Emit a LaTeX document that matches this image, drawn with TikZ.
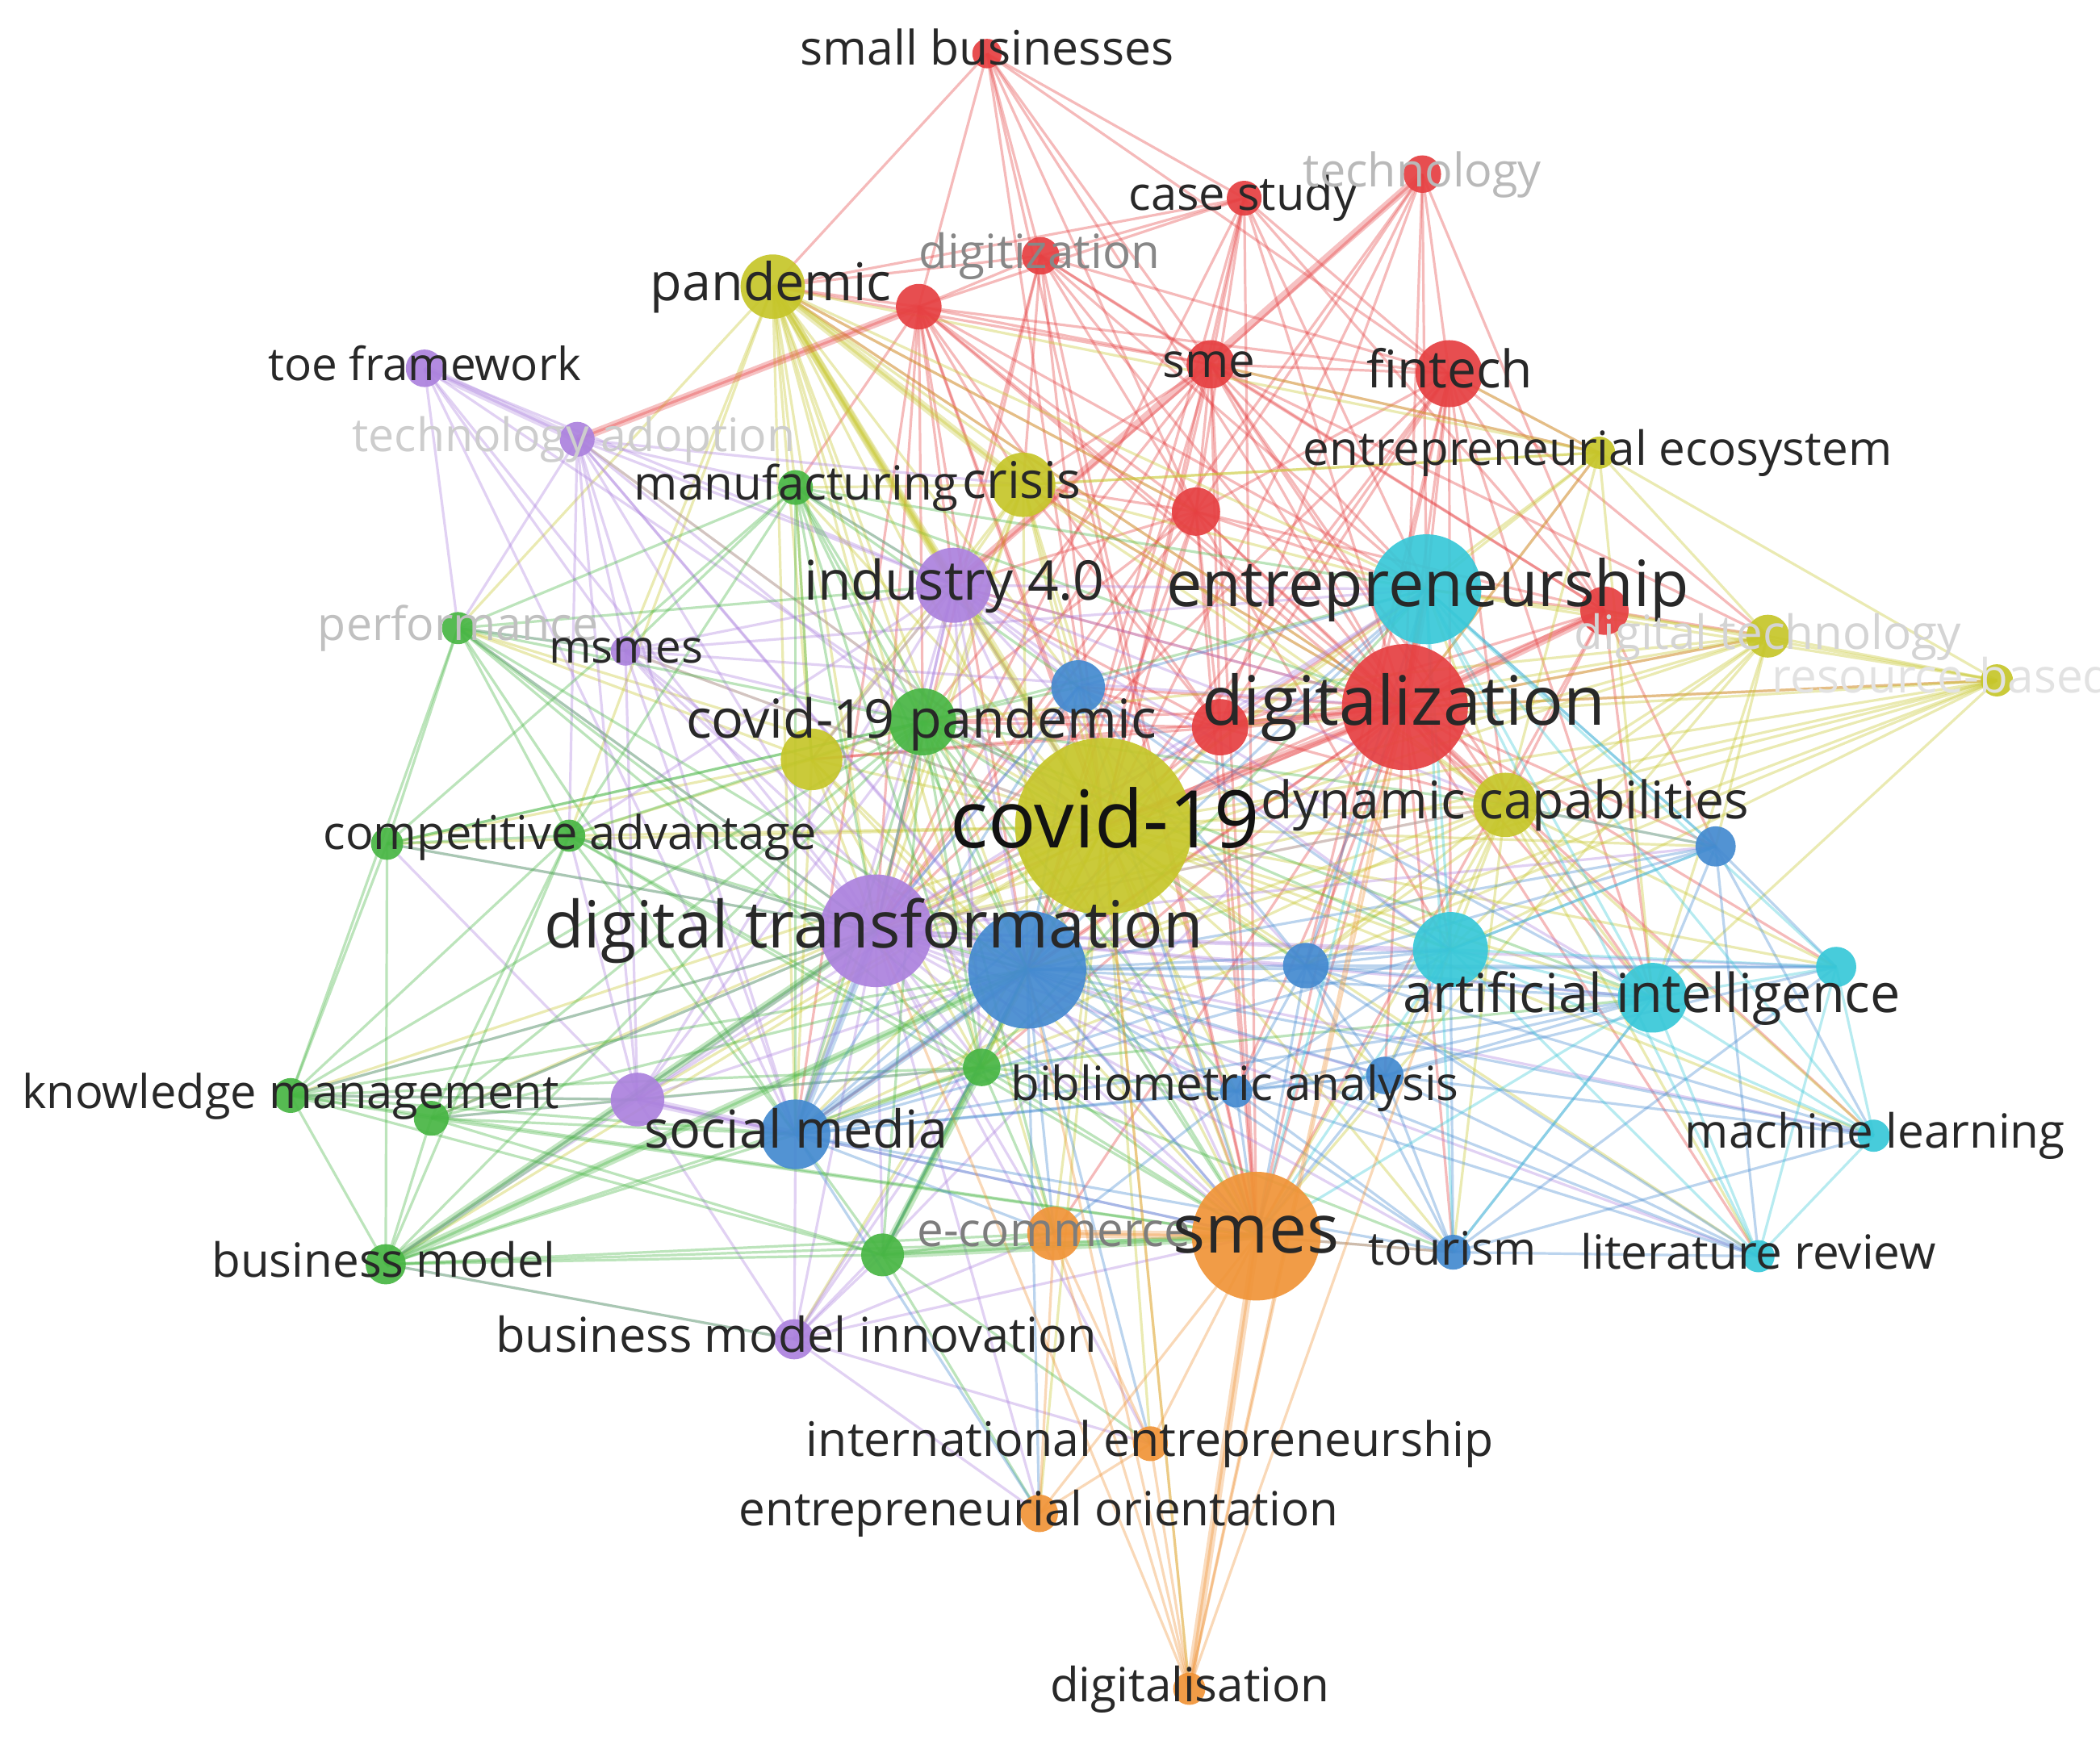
\documentclass[tikz,border=0pt]{standalone}
\usepackage{fontspec}
\setmainfont{Open Sans}
\pgfdeclarelayer{bg}
\pgfsetlayers{bg,main}
\definecolor{cR}{RGB}{230,64,66}
\definecolor{cY}{RGB}{198,198,42}
\definecolor{cP}{RGB}{172,130,222}
\definecolor{cG}{RGB}{72,182,68}
\definecolor{cB}{RGB}{68,138,208}
\definecolor{cC}{RGB}{56,200,216}
\definecolor{cO}{RGB}{240,148,56}
\definecolor{txt}{RGB}{40,40,40}
\definecolor{txtd}{RGB}{18,18,18}
\definecolor{fa}{RGB}{125,125,125}
\definecolor{fb}{RGB}{135,135,135}
\definecolor{fc}{RGB}{185,185,185}
\definecolor{fd}{RGB}{192,192,192}
\definecolor{fe}{RGB}{205,205,205}
\definecolor{ff}{RGB}{212,212,212}
\definecolor{fg}{RGB}{226,226,226}
\tikzset{
  edgebase/.style={line width=0.55pt,draw opacity=0.36},
  eR/.style={edgebase,draw=cR},
  eY/.style={edgebase,draw=cY},
  eP/.style={edgebase,draw=cP},
  eG/.style={edgebase,draw=cG},
  eB/.style={edgebase,draw=cB},
  eC/.style={edgebase,draw=cC},
  eO/.style={edgebase,draw=cO},
  thk/.style={line width=1.7pt,draw opacity=0.32},
  kw/.style={circle,inner sep=0pt,draw=none,fill opacity=0.92},
  lbl/.style={anchor=base,inner sep=0pt}
}
\newcommand\mynode[5]{\node[kw,minimum size=#4*0.02cm,fill=#5] (#1) at (#2,#3) {};}
\newcommand\myedge[3]{\foreach \t in {#3}{\draw[#1] (#2.center) -- (\t.center);}}
\newcommand\mylab[6]{\node[lbl,text=#5,font=\fontsize{#4}{#4}\selectfont] (#1) at (#2,#3) {#6};}
\begin{document}
\begin{tikzpicture}[x=0.01cm,y=-0.01cm]
\useasboundingbox (0,0) rectangle (1568,1299);
% ---------- nodes ----------
% red
\mynode{sb}{737}{40}{11}{cR}
\mynode{cs}{929}{148}{13}{cR}
\mynode{tec}{1062}{130}{14}{cR}
\mynode{dgz}{777}{191}{14}{cR}
\mynode{rA}{686}{229}{17}{cR}
\mynode{sme}{904}{272}{18}{cR}
\mynode{fin}{1082}{279}{25}{cR}
\mynode{rB}{893}{382}{18}{cR}
\mynode{rC}{1198}{456}{18}{cR}
\mynode{dgl}{1049}{528}{47}{cR}
\mynode{rD}{911}{543}{21}{cR}
% yellow
\mynode{pan}{577}{214}{24}{cY}
\mynode{cri}{764}{362}{24}{cY}
\mynode{eco}{1194}{338}{12}{cY}
\mynode{dtc}{1320}{475}{16}{cY}
\mynode{rbv}{1491}{508}{12}{cY}
\mynode{cov}{824}{617}{66}{cY}
\mynode{dyn}{1124}{601}{24}{cY}
\mynode{yA}{606}{567}{23}{cY}
% purple
\mynode{toe}{317}{275}{14}{cP}
\mynode{tad}{431}{328}{13}{cP}
\mynode{msm}{467}{486}{11}{cP}
\mynode{ind}{712}{437}{28}{cP}
\mynode{dtr}{654}{695}{42}{cP}
\mynode{pA}{476}{821}{20}{cP}
\mynode{bmi}{593}{1000}{15}{cP}
% green
\mynode{man}{594}{364}{13}{cG}
\mynode{per}{342}{469}{12}{cG}
\mynode{cpd}{689}{539}{25}{cG}
\mynode{caL}{289}{630}{12}{cG}
\mynode{ca}{425}{624}{12}{cG}
\mynode{km}{217}{818}{13}{cG}
\mynode{gK}{322}{835}{13}{cG}
\mynode{bm}{288}{944}{15}{cG}
\mynode{gA}{733}{797}{14}{cG}
\mynode{gB}{659}{937}{16}{cG}
% blue
\mynode{bA}{805}{513}{20}{cB}
\mynode{bB}{767}{724}{44}{cB}
\mynode{sm}{594}{847}{26}{cB}
\mynode{bC}{975}{721}{17}{cB}
\mynode{ba}{923}{815}{12}{cB}
\mynode{bD}{1034}{803}{14}{cB}
\mynode{tou}{1085}{935}{13}{cB}
\mynode{bE}{1281}{632}{15}{cB}
% cyan
\mynode{ent}{1065}{440}{41}{cC}
\mynode{cyA}{1083}{709}{28}{cC}
\mynode{ai}{1234}{745}{26}{cC}
\mynode{cyB}{1371}{722}{15}{cC}
\mynode{ml}{1399}{848}{12}{cC}
\mynode{lr}{1313}{938}{12}{cC}
% orange
\mynode{smes}{938}{923}{48}{cO}
\mynode{ec}{787}{921}{20}{cO}
\mynode{ie}{859}{1078}{13}{cO}
\mynode{eo}{776}{1130}{14}{cO}
\mynode{dgs}{888}{1261}{12}{cO}
% ---------- edges ----------
\begin{pgfonlayer}{bg}
\fill[white] (0,0) rectangle (1568,1299);
\myedge{eR}{sb}{pan,rA,dgz,cs,sme,cov,dgl,rB,smes,fin}
\myedge{eR}{cs}{dgz,rA,pan,sme,fin,dgl,ent,rB,cov,smes,rC,dtr,bB}
\myedge{eR}{tec}{sme,fin,ent,dgl,rB,cov,dtr,rD,rC}
\myedge{eR}{dgz}{pan,rA,sme,fin,dgl,cov,rB,cri,ind,dtr,smes,ent,rC}
\myedge{eR}{rA}{pan,sme,fin,dgl,cov,tad,cri,ind,cpd,dtr,bB,rB,ent,rD,smes,man,sm,dyn}
\myedge{eR}{sme}{fin,dgl,ent,cov,rB,rC,rD,dtr,ind,cri,smes,eco,dyn,ai,bB,cpd,dtc,pan}
\myedge{eR}{fin}{dgl,ent,cov,rC,rB,eco,dtc,dyn,smes,ai,bB,rD,dtr,cyA,bC}
\myedge{eR}{rB}{dgl,cov,ent,dtr,ind,cri,rD,bB,smes,cpd,pan,rC,dyn,cyA}
\myedge{eR}{rC}{dgl,ent,dtc,cov,dyn,rD,smes,ai,bE}
\myedge{eR}{dgl}{cov,ent,rD,dtr,dyn,smes,ai,cyA,bB,bC,dtc,rbv,eco,ind,cri,cpd,bA,sm,ba,bD,tou,ml,lr,bE,cyB,pan,ec,yA,gA}
\myedge{eR}{rD}{cov,ent,dtr,bB,cri,ind,cpd,smes,dyn,bA,yA}
\myedge{eY}{pan}{cov,cri,ind,cpd,yA,dtr,bB,man,rB,dgl,ent,smes,per,msm,sm,ca,bA,dyn,ec,gA}
\myedge{eY}{cri}{cov,ind,cpd,yA,dtr,bB,dgl,ent,smes,man,bA,dyn,sm,eco}
\myedge{eY}{eco}{ent,dtc,dgl,dyn,cov,fin,sme,ai,cri,rbv,pan}
\myedge{eY}{dtc}{dgl,ent,rbv,dyn,cov,ai,cyA,bE,smes,dtr,bC,rD,cpd}
\myedge{eY}{rbv}{dgl,ent,dyn,cov,dtr,cyA,bB,sm,rD,rC,bC,ai}
\myedge{eY}{cov}{dtr,bB,smes,ent,dyn,cpd,yA,ind,sm,ai,cyA,bC,ba,bD,tou,ec,gA,gB,bA,man,per,ca,caL,km,gK,bm,pA,msm,tad,ie,eo,dgs,bE,lr,ml,cyB,bmi}
\myedge{eY}{dyn}{ent,ai,cyA,bE,smes,dtr,bB,bC,bD,cyB,ml,lr,tou,sm}
\myedge{eY}{yA}{dtr,cpd,ind,bB,sm,ca,caL,per,man,smes,gA}
\myedge{eP}{toe}{tad,msm,ind,dtr,cov,sm,per}
\myedge{eP}{tad}{msm,ind,dtr,cov,man,cri,cpd,bB,sm,pA,per,smes,ca}
\myedge{eP}{msm}{ind,dtr,cov,per,cpd,bB,sm,dgl,smes,ent,pA}
\myedge{eP}{ind}{cov,dtr,bB,cpd,dgl,ent,smes,man,yA,sm,bA,dyn,ai,cyA,bC,gA,pA,ca}
\myedge{eP}{dtr}{bB,smes,sm,pA,bmi,cpd,gA,gB,ent,ai,cyA,bC,ba,bD,ec,km,gK,bm,ca,caL,per,tou,dyn,eo,ie,bA,lr,ml,bE,cyB}
\myedge{eP}{pA}{sm,bB,bmi,km,gK,bm,gA,smes,ent,cpd,caL,ca}
\myedge{eP}{bmi}{sm,bB,gB,bm,smes,eo,ie,ec,gA,dgl}
\myedge{eG}{man}{cpd,ind,per,caL,ca,dtr,bB,yA,gA,smes,ent,sm,bA,dgl,msm}
\myedge{eG}{per}{caL,ca,msm,cpd,dtr,bB,smes,gA,sm,km,ind}
\myedge{eG}{cpd}{bB,smes,dtr,sm,ent,dyn,gA,gB,ai,ca,caL,km,gK,bm,bA,ec,bC,ba,cyA}
\myedge{eG}{caL}{km,ca,dtr,cpd,bm}
\myedge{eG}{ca}{gK,bm,dtr,bB,smes,sm,gA,km}
\myedge{eG}{km}{gK,bm,dtr,bB,sm,pA,smes,gA,gB}
\myedge{eG}{gK}{bm,dtr,bB,sm,gB,smes,gA}
\myedge{eG}{bm}{dtr,bB,sm,gA,gB,smes,ec,bmi}
\myedge{eG}{gA}{bB,smes,sm,gB,ec,ent,ba,tou,ai}
\myedge{eG}{gB}{smes,ec,bB,sm,eo,ie}
\myedge{eB}{bA}{bB,dtr,ent,smes,sm,ai,bC,cyA}
\myedge{eB}{bB}{smes,sm,ent,ai,cyA,bC,ba,bD,tou,ec,eo,ie,lr,ml,bE,cyB,gB}
\myedge{eB}{sm}{smes,ec,bC,ba,bD,tou,ai,ent,cyA,eo}
\myedge{eB}{bC}{smes,ai,cyA,ent,ba,bD,tou,bE,cyB,lr,ml}
\myedge{eB}{ba}{smes,bD,tou,ai,cyA,lr,ec}
\myedge{eB}{bD}{smes,tou,ai,cyA,lr,ml,cyB}
\myedge{eB}{tou}{smes,ai,cyA,lr,ml,cyB}
\myedge{eB}{bE}{ai,cyA,cyB,ml,lr,ent,dyn}
\myedge{eC}{ent}{cyA,ai,smes,cyB,ml,lr,bE,tou}
\myedge{eC}{cyA}{ai,cyB,ml,lr,smes,bE}
\myedge{eC}{ai}{cyB,ml,lr,smes,tou}
\myedge{eC}{cyB}{ml,lr}
\myedge{eC}{ml}{lr}
\myedge{eO}{smes}{ec,ie,eo,dgs,tou}
\myedge{eO}{ec}{ie,eo,dgs}
\myedge{eO}{ie}{eo,dgs}
\myedge{eO}{dgs}{cov,dgl,dtr,bB,cyA,ent}
% stronger links
\myedge{eY,thk}{pan}{cov,cri,ind}
\myedge{eR,thk}{dgl}{cov,rD,rC,ent}
\myedge{eR,thk}{tec}{ind}
\myedge{eR,thk}{rA}{tad}
\myedge{eP,thk}{toe}{tad}
\myedge{eB,thk}{sm}{dtr,bB}
\myedge{eP,thk}{pA}{sm}
\myedge{eG,thk}{gB}{gA,smes}
\myedge{eG,thk}{bm}{dtr,bB}
\myedge{eO,thk}{smes}{ec,dgs}
\end{pgfonlayer}
% ---------- labels ----------
\mylab{l1}{737}{48.6}{10.1}{txt}{small businesses}
\mylab{l2}{928}{157}{9.9}{txt}{case study}
\mylab{l3}{1062}{139.3}{9.85}{fc}{technology}
\mylab{l4}{776}{200.5}{10}{fb}{digitization}
\mylab{l5}{575.5}{224.5}{11.07}{txt}{pandemic}
\mylab{l6}{902.5}{281.5}{10}{txt}{sme}
\mylab{l7}{1082.5}{289.4}{11}{txt}{fintech}
\mylab{l8}{317}{284.2}{9.7}{txt}{toe framework}
\mylab{l9}{428.5}{337.3}{9.8}{fe}{technology adoption}
\mylab{l10}{594.5}{373.5}{10}{txt}{manufacturing}
\mylab{l11}{763}{372.2}{10.75}{txt}{crisis}
\mylab{l12}{1193}{347.5}{10}{txt}{entrepreneurial ecosystem}
\mylab{l13}{712.5}{448}{11.6}{txt}{industry 4.0}
\mylab{l14}{1066}{452.9}{13.55}{txt}{entrepreneurship}
\mylab{l15}{342}{478.3}{9.8}{fd}{performance}
\mylab{l16}{467.5}{495.2}{9.7}{txt}{msmes}
\mylab{l17}{1320}{484.5}{10}{ff}{digital technology}
\mylab{l18}{1491}{517.5}{10}{fg}{resource-based view}
\mylab{l19}{1048}{541.7}{14.45}{txt}{digitalization}
\mylab{l20}{688}{550.9}{11.4}{txt}{covid-19 pandemic}
\mylab{l21}{825}{633}{16.9}{txtd}{covid-19}
\mylab{l22}{1124}{611.5}{11}{txt}{dynamic capabilities}
\mylab{l23}{425.5}{634.4}{9.9}{txt}{competitive advantage}
\mylab{l24}{652.5}{708}{13.8}{txt}{digital transformation}
\mylab{l25}{1233.5}{755.8}{11.4}{txt}{artificial intelligence}
\mylab{l26}{217}{827.4}{9.9}{txt}{knowledge management}
\mylab{l27}{922}{821.5}{10}{txt}{bibliometric analysis}
\mylab{l28}{594.5}{857.5}{11.1}{txt}{social media}
\mylab{l29}{1400}{857.5}{10}{txt}{machine learning}
\mylab{l30}{787}{930.5}{10}{fa}{e-commerce}
\mylab{l31}{938}{935.7}{14.4}{txt}{smes}
\mylab{l32}{1084.5}{944.3}{9.8}{txt}{tourism}
\mylab{l33}{1313}{947.5}{10}{txt}{literature review}
\mylab{l34}{286.5}{953.5}{10}{txt}{business model}
\mylab{l35}{594.5}{1009.7}{10.2}{txt}{business model innovation}
\mylab{l36}{858.5}{1087.6}{10.1}{txt}{international entrepreneurship}
\mylab{l37}{775.5}{1139.5}{10}{txt}{entrepreneurial orientation}
\mylab{l38}{888.5}{1270.5}{10}{txt}{digitalisation}
\end{tikzpicture}
\end{document}
